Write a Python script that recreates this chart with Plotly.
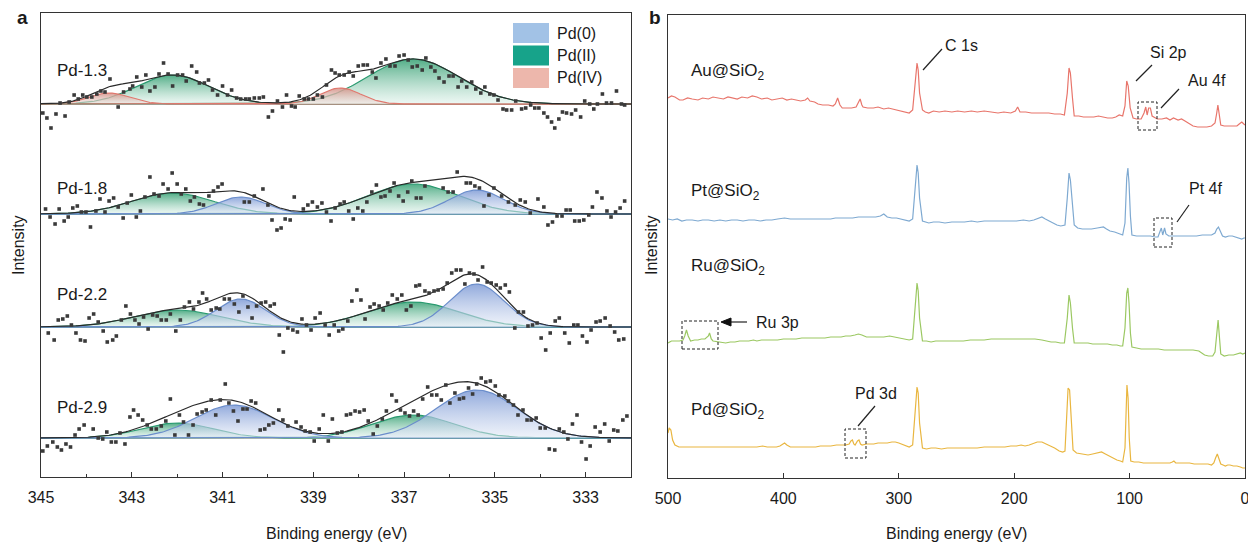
import numpy as np
import plotly.graph_objects as go

W, H = 1248, 544
def px(x): return x / W
def py(y): return 1 - y / H

FONT = "Liberation Sans, Arial, sans-serif"

# ---------------- Panel a : Pd 3d high-resolution spectra ----------------
samples = ["Pd-1.3", "Pd-1.8", "Pd-2.2", "Pd-2.9"]
offsets = [373, 263, 150, 39]          # vertical stacking offsets (a.u.)

# fitted components: (state, centre eV, height a.u., sigma eV)
comps_13 = [("Pd(II)", 342.1, 29, 0.8), ("Pd(IV)", 343.5, 11, 0.45),
            ("Pd(II)", 336.8, 45, 1.0), ("Pd(IV)", 338.4, 16, 0.45)]
comps_18 = [("Pd(II)", 342.1, 21, 0.9), ("Pd(0)", 340.6, 17, 0.55),
            ("Pd(II)", 336.8, 30, 1.0), ("Pd(0)", 335.4, 24, 0.6)]
comps_22 = [("Pd(II)", 342.0, 17, 0.95), ("Pd(0)", 340.6, 28, 0.55),
            ("Pd(II)", 336.8, 25, 1.0), ("Pd(0)", 335.4, 43, 0.6)]
comps_29 = [("Pd(II)", 342.0, 15, 0.8), ("Pd(0)", 340.75, 33, 0.85),
            ("Pd(II)", 336.8, 23, 0.9), ("Pd(0)", 335.4, 48, 0.9)]

# measured points (binding energy eV, intensity above baseline a.u.)
pts_13 = [(344.96,-9),(344.87,-14),(344.78,-24),(344.67,-10),(344.58,1),(344.47,-12),(344.38,2),(344.27,9),
 (344.18,5),(344.08,9),(343.99,7),(343.88,7),(343.77,10),(343.68,13),(343.59,12),(343.48,25),(343.30,-3),
 (343.18,12),(343.04,15),(342.98,18),(342.89,27),(342.78,17),(342.69,29),(342.60,13),(342.49,17),(342.40,30),
 (342.30,41),(342.20,30),(342.10,18),(341.99,29),(341.88,29),(341.80,23),(341.68,38),(341.57,32),(341.51,21),
 (341.40,21),(341.31,24),(341.22,14),(341.11,9),(341.00,18),(340.89,9),(340.80,14),(340.69,6),(340.60,5),
 (340.49,5),(340.41,5),(340.30,6),(340.19,6),(340.10,7),(339.99,-13),(339.90,-7),(339.79,3),(339.68,-3),
 (339.59,9),(339.48,-2),(339.40,-3),(339.31,8),(339.20,5),(339.11,5),(339.00,5),(338.91,9),(338.80,7),
 (338.71,19),(338.60,34),(338.52,31),(338.43,29),(338.32,29),(338.21,32),(338.12,28),(338.01,38),(337.90,39),
 (337.81,39),(337.70,32),(337.62,26),(337.51,41),(337.40,45),(337.31,38),(337.20,38),(337.11,48),(337.00,49),
 (336.91,44),(336.82,37),(336.71,38),(336.60,34),(336.52,46),(336.41,37),(336.32,33),(336.23,26),(336.12,22),
 (336.01,28),(335.92,28),(335.81,17),(335.73,23),(335.62,17),(335.51,22),(335.42,15),(335.31,11),(335.22,17),
 (335.11,10),(335.02,9),(334.93,4),(334.82,-5),(334.74,-6),(334.63,-6),(334.54,3),(334.41,-5),(334.32,-4),
 (334.21,-1),(334.12,-4),(334.03,-4),(333.92,-9),(333.84,-13),(333.75,-18),(333.68,-24),(333.59,-15),
 (333.51,-8),(333.42,-9),(333.31,-10),(333.22,-6),(333.11,-13),(333.02,3),(332.91,0),(332.82,-5),(332.74,0),
 (332.63,10),(332.54,1),(332.43,1),(332.32,13),(332.21,0),(332.14,-1)]
pts_18 = [(344.90,5),(344.80,-3),(344.69,-10),(344.60,5),(344.49,-7),(344.40,-3),(344.30,6),(344.20,8),
 (344.11,2),(344.01,2),(343.91,-13),(343.79,3),(343.70,15),(343.59,2),(343.50,13),(343.40,16),(343.30,7),
 (343.19,-4),(343.10,11),(343.01,19),(342.90,-3),(342.81,3),(342.71,17),(342.60,37),(342.51,20),(342.40,18),
 (342.31,30),(342.20,25),(342.11,41),(342.00,30),(341.91,20),(341.81,25),(341.71,13),(341.62,17),(341.51,10),
 (341.42,9),(341.30,18),(341.20,23),(341.10,27),(341.01,30),(340.52,12),(340.41,12),(340.30,18),(340.11,25),
 (340.00,9),(339.91,-6),(339.80,-16),(339.71,-14),(339.62,-5),(339.51,-6),(339.42,17),(339.22,5),(339.12,9),
 (339.02,12),(338.91,7),(338.81,11),(338.71,2),(338.61,-7),(338.52,6),(338.41,10),(338.32,12),(338.22,3),
 (338.12,-5),(338.02,6),(337.91,3),(337.82,12),(337.71,22),(337.61,29),(337.51,17),(337.42,18),(337.31,23),
 (337.22,31),(337.12,18),(337.02,13),(336.92,22),(336.83,33),(336.73,16),(336.63,16),(336.54,28),(336.14,26),
 (336.03,22),(335.92,22),(335.83,42),(335.63,31),(335.54,31),(335.44,28),(335.34,26),(335.24,8),(335.13,19),
 (335.02,26),(334.85,18),(334.70,12),(334.55,9),(334.44,14),(334.33,12),(334.22,1),(334.05,15),(333.92,7),
 (333.83,-11),(333.73,-8),(333.63,-2),(333.52,-2),(333.43,4),(333.34,4),(333.24,-7),(333.14,-7),(333.04,-6),
 (332.93,-1),(332.85,7),(332.75,22),(332.64,16),(332.53,3),(332.44,-3),(332.34,2),(332.24,6),(332.14,13)]
pts_22 = [(344.84,-6),(344.71,-13),(344.62,7),(344.52,8),(344.42,11),(344.33,2),(344.23,-6),(344.13,-13),
 (344.03,-14),(343.94,9),(343.84,13),(343.74,5),(343.63,-4),(343.54,-15),(343.42,-13),(343.34,-9),(343.23,7),
 (343.13,21),(343.03,13),(342.93,7),(342.84,3),(342.74,10),(342.64,-2),(342.54,12),(342.44,11),(342.35,7),
 (342.24,7),(342.15,13),(342.03,-4),(341.93,7),(341.84,20),(341.73,25),(341.64,18),(341.52,25),(341.44,34),
 (341.35,28),(341.25,17),(341.14,19),(341.06,18),(340.96,28),(340.85,28),(340.74,23),(340.64,15),(340.55,31),
 (340.44,20),(340.35,9),(340.25,21),(340.15,24),(340.05,25),(339.95,21),(339.86,23),(339.75,-8),(339.66,-25),
 (339.56,-1),(339.45,-3),(339.35,-5),(339.25,8),(339.15,2),(339.05,-3),(338.96,9),(338.85,14),(338.74,2),
 (338.65,-8),(338.54,2),(338.44,-4),(338.35,-2),(338.24,6),(338.15,26),(338.04,37),(337.95,27),(337.86,8),
 (337.75,20),(337.66,23),(337.55,21),(337.46,17),(337.36,24),(337.26,32),(337.15,28),(337.05,32),(336.95,17),
 (336.85,21),(336.74,41),(336.66,42),(336.54,36),(336.45,34),(336.34,36),(336.25,37),(336.14,38),(336.05,44),
 (335.95,54),(335.85,57),(335.75,57),(335.66,43),(335.56,54),(335.46,53),(335.37,47),(335.27,60),(335.17,45),
 (335.08,44),(334.97,42),(334.88,39),(334.77,42),(334.68,35),(334.56,-1),(334.48,15),(334.37,15),(334.27,1),
 (334.17,2),(334.07,4),(333.98,-11),(333.88,-23),(333.78,-6),(333.67,6),(333.58,9),(333.46,-6),(333.36,-16),
 (333.26,2),(333.17,2),(333.07,-9),(332.97,-15),(332.88,-3),(332.77,5),(332.68,6),(332.57,9),(332.46,1),
 (332.36,-5),(332.27,-13),(332.16,-12)]
pts_29 = [(344.96,-13),(344.86,-8),(344.74,-4),(344.64,-9),(344.55,-12),(344.45,-6),(344.35,-9),(344.25,3),
 (344.16,9),(344.05,13),(343.85,9),(343.74,0),(343.64,-1),(343.55,6),(343.45,-4),(343.35,-4),(343.26,5),
 (343.15,-6),(343.04,21),(342.96,28),(342.86,23),(342.76,18),(342.66,13),(342.57,9),(342.46,9),(342.35,12),
 (342.25,17),(342.15,39),(342.05,3),(341.95,23),(341.86,16),(341.75,3),(341.65,13),(341.56,24),(341.45,26),
 (341.36,28),(341.25,38),(341.15,23),(341.05,38),(340.94,54),(340.86,35),(340.76,27),(340.66,17),(340.55,29),
 (340.46,29),(340.37,37),(340.27,35),(340.17,8),(340.07,9),(339.98,13),(339.88,15),(339.76,28),(339.67,18),
 (339.56,12),(339.38,16),(339.27,11),(339.18,7),(339.07,6),(338.98,-3),(338.87,9),(338.78,23),(338.67,-3),
 (338.58,19),(338.47,5),(338.37,6),(338.27,23),(338.18,24),(338.08,27),(337.98,26),(337.88,28),(337.79,17),
 (337.68,4),(337.59,12),(337.48,19),(337.39,27),(337.27,43),(337.17,37),(337.08,28),(336.98,25),(336.88,22),
 (336.79,27),(336.69,23),(336.59,39),(336.48,51),(336.39,43),(336.28,43),(336.18,38),(336.08,53),(335.99,35),
 (335.88,45),(335.78,39),(335.69,40),(335.58,50),(335.49,44),(335.40,54),(335.30,60),(335.20,56),(335.10,57),
 (334.99,52),(334.91,43),(334.78,42),(334.70,37),(334.59,33),(334.49,23),(334.38,28),(334.29,18),(334.20,18),
 (334.09,20),(334.00,10),(333.89,10),(333.80,-11),(333.68,-12),(333.58,9),(333.48,6),(333.39,-1),(333.29,14),
 (333.19,23),(333.09,-4),(332.99,-21),(332.90,-8),(332.79,11),(332.68,6),(332.58,14),(332.48,-3),(332.38,8),
 (332.29,7),(332.18,18),(332.09,22)]

comps_all = [comps_13, comps_18, comps_22, comps_29]
pts_all = [pts_13, pts_18, pts_22, pts_29]
label_y = [70, 188, 294, 407]

styles = {
    "Pd(0)":  dict(line="#6A8DCB", top="rgba(120,150,212,0.82)", bot="rgba(226,233,246,0.55)"),
    "Pd(II)": dict(line="#2A9A70", top="rgba(58,162,118,0.88)", bot="rgba(224,242,235,0.55)"),
    "Pd(IV)": dict(line="#E0786E", top="rgba(212,146,136,0.88)", bot="rgba(240,226,222,0.55)"),
}
legend_swatch = {"Pd(0)": "#A2C2E6", "Pd(II)": "#17A38A", "Pd(IV)": "#EDB7AC"}

grid = np.linspace(345.2, 331.9, 400)

fig = go.Figure()

for comps, pts, base in zip(comps_all, pts_all, offsets):
    total = np.zeros_like(grid)
    fig.add_trace(go.Scatter(x=[345.2, 331.9], y=[base, base], mode="lines",
                             line=dict(color="#8E9C97", width=1.3), xaxis="x", yaxis="y",
                             showlegend=False, hoverinfo="skip"))
    order = sorted(comps, key=lambda c: 1 if c[0] == "Pd(0)" else 0)
    for state, c, h, s in order:
        g = h * np.exp(-(grid - c) ** 2 / (2 * s * s))
        st = styles[state]
        fig.add_trace(go.Scatter(
            x=grid, y=base + g, mode="lines", fill="toself",
            fillgradient=dict(type="vertical", start=base, stop=base + h,
                              colorscale=[[0, st["bot"]], [1, st["top"]]]),
            line=dict(color=st["line"], width=1.2), xaxis="x", yaxis="y",
            showlegend=False, hoverinfo="skip"))
    for state, c, h, s in comps:
        total += h * np.exp(-(grid - c) ** 2 / (2 * s * s))
    fig.add_trace(go.Scatter(x=grid, y=base + total, mode="lines",
                             line=dict(color="#2A2A2A", width=1.2), xaxis="x", yaxis="y",
                             showlegend=False, hoverinfo="skip"))
    fig.add_trace(go.Scatter(x=[p[0] for p in pts], y=[base + p[1] for p in pts], mode="markers",
                             marker=dict(symbol="square", size=3.6, color="#3A3A3A"),
                             xaxis="x", yaxis="y", showlegend=False))

# ---------------- Panel b : survey spectra ----------------
survey_names = ["Au@SiO<sub>2</sub>", "Pt@SiO<sub>2</sub>", "Ru@SiO<sub>2</sub>", "Pd@SiO<sub>2</sub>"]
survey_colors = ["#E8756B", "#7EA9D1", "#9BC862", "#E9B640"]
survey_label_y = [72, 192, 267, 411]

au = [(500,380),(497,382),(494,381),(490,378),(487,378),(483,380),(479,379),(474,378),(470,380),(465,379),
 (461,381),(457,380),(452,379),(448,381),(444,380),(440,379),(436,381),(431,380),(427,382),(423,381),(419,379),
 (414,380),(410,378),(406,379),(401,380),(397,378),(393,379),(389,378),(385,377),(381,378),(379,380),(377,377),
 (373,376),(370,374),(366,373),(361,373),(357,372),(355,374),(353,380),(351,373),(349,370),(345,370),(341,370),
 (337,371),(335,375),(333.5,379),(332,373),(331,371),(327,370),(322,370),(318,371),(313,369),(309,370),
 (305,369),(300,368),(296,367),(291,365),(288,368),(285.8,392),(284.2,415),(283.2,408),(282,385),(279.5,368),
 (277,366),(274,365),(270,367),(265,366),(260,367),(254,366),(249,367),(243,366),(237,367),(232,366),(226,367),
 (220,366),(214,365),(209,366),(203,365),(199,367),(197,371),(195,366),(190,366),(185,365),(180,365),(175,365),
 (170,365),(165,364),(160,364),(156.5,363),(154,385),(152.5,410),(151.3,405),(149.5,380),(148,362),(144,362),
 (140,361),(136,361),(131,361),(127,362),(123,361),(119,360),(115,360),(112,361),(109,363),(106,362),(104,372),
 (102.5,397),(101.2,392),(99.5,370),(97,360),(94,359),(90,359),(87.5,365),(86,371),(84.8,363),(83.5,370),
 (82,370),(80.5,362),(79,361),(76,359),(72,359),(68,360),(65,358),(62,360),(58,358),(55,359),(52,357),(49,355),
 (45,352),(41,351),(37,351),(33,351),(29,352),(26,355),(24.5,365),(23.5,373),(22.5,365),(21,353),(18,352),
 (14,352),(10,352),(7,352),(5,354),(2.8,356),(1,354),(0,353)]
pt = [(500,259),(496,258),(492,259),(488,257),(484,258),(479,258),(474,257),(470,258),(465,258),(460,257),
 (455,258),(450,257),(445,258),(440,258),(435,257),(430,258),(425,258),(420,257),(415,258),(410,258),(405,259),
 (399,260),(394,259),(389,259),(384,259),(379,259),(374,259),(369,259),(364,259),(359,259),(355,260),(350,260),
 (345,260),(340,260),(335,261),(330,261),(325,261),(320,261),(316,262),(313,264),(310,261),(306,260),(302,260),
 (298,259),(294,258),(291,257),(288,259),(285.8,290),(284.2,313),(283.2,305),(282,280),(279.5,257),(276,256),
 (274,255),(270,256),(265,256),(260,255),(254,256),(249,256),(243,256),(237,257),(232,256),(226,257),(220,257),
 (214,257),(209,257),(203,257),(198,257),(192,258),(187,257),(183,258),(179,260),(176,261),(173,259),(170,257),
 (166,255),(163,253),(159.6,252),(156,253),(154,280),(152.5,305),(151.3,298),(149.5,272),(148,253),(145,250),
 (141,249),(137,249),(133,249),(128,250),(124,251),(122.7,251),(120,249),(117,247),(113,246),(109,244),(106,243),
 (104,255),(102.5,300),(101.5,310),(100.5,295),(99.3,262),(98,243),(94,242),(90,242),(86,242),(82,242),(78,241),
 (75.4,241),(73.5,247),(72.5,250),(71.3,243),(69.7,250),(68.5,244),(66,242),(61,242),(56,242),(52,242),(47,242),
 (42,242),(37,243),(33,243),(29,243),(26,245),(24.5,249),(23,251),(21.5,247),(19.5,242),(17,241),(14,242),
 (11,242),(8,241),(5,240),(2.8,239),(1,240),(0,240)]
ru = [(500,135),(497,137),(493,137),(490,137),(487,138),(485.5,142),(484,148),(482.5,142),(480.4,137),(477,138),
 (474,138),(471,139),(468,139),(465,142),(464,145),(462.5,139),(461,137),(457,136),(453,135),(450,135),(446,136),
 (442,136),(438,137),(434,137),(430,137),(426,138),(423,137),(419,138),(414,138),(410,138),(405,138),(400,139),
 (395,139),(389,139),(384,140),(379,140),(374,140),(369,140),(364,140),(359,141),(355,141),(350,141),(346,142),
 (342,142),(338,143),(335,144),(332,143),(328,141),(325,141),(322,141),(318,141),(313,141),(308,142),(303,141),
 (299,140),(295,139),(291,138),(288,139),(285.8,170),(284.2,195),(283.2,187),(282,160),(279.5,137),(276,137),
 (272,136),(268,137),(263,137),(258,137),(254,137),(249,137),(244,137),(238,138),(232,138),(226,138),(220,139),
 (214,139),(208,139),(203,139),(197,139),(191,139),(187,139),(182,139),(176,138),(172,137),(168,136),(164,136),
 (160,135),(156.5,135),(154,160),(152.5,183),(151.3,175),(149.5,150),(148,135),(144,135),(140,135),(136,135),
 (132,134),(128,134),(124,134),(119,134),(115,133),(111,133),(108,132),(106,132),(104,150),(102.5,185),
 (101.5,190),(100.5,175),(99.3,145),(98,131),(94,130),(90,129),(86,129),(80,129),(75,129),(70,128),(65,128),
 (60,128),(55,128),(50,128),(45,128),(40,127),(37,125),(35,123),(31.6,122),(28,122),(26,126),(24.5,145),
 (23.3,158),(22.3,143),(21,124),(18,122),(14,123),(10,123),(7,124),(4,125),(2,124),(0,125)]
pd = [(500,45),(499,50),(497.5,48),(496,38),(494,33),(490.5,31),(486,31),(482,31),(478,31),(474,31),(470,31),
 (466,31),(461,31),(457,31),(452,31),(448,31),(444,31),(440,31),(435,31),(431,31),(427,31),(423,31),(418,32),
 (414,31),(410,31),(406,31),(403,32),(401,34),(399,35),(397,33),(394,31),(390,31),(386,31),(382,31),(377,31),
 (372,31),(368,32),(363,32),(359,32),(354,33),(350,33),(346,33),(343,34),(341.5,37),(340.2,38),(339,34),
 (337.9,33),(335.8,37),(334.5,38),(333.2,34),(331.8,33),(328,34),(325,34),(321.7,34),(318,35),(314,35),(310,35),
 (306,36),(303,36),(300,35),(296,33),(293,32),(291,31),(288,33),(285.8,70),(284.2,91),(283.2,85),(282,55),
 (279.5,30),(276,29),(272,30),(268,30),(263,29),(258,30),(254,30),(249,30),(244,30),(238,30),(232,30),(226,31),
 (220,31),(214,31),(208,31),(203,32),(198,32),(194,33),(190.6,32),(187,33),(184,34),(180,36),(176,36),(172,34),
 (168,32),(165,30),(161,27),(158,26),(156,27),(154.5,60),(153.3,90),(152,88),(150.5,55),(149,28),(146,25),
 (142,24),(139,23),(136,23),(132,24),(128,25),(124.3,26),(121,24),(118,22),(114,20),(111,18),(108,17),(106,16),
 (104,30),(103.2,75),(102.3,93),(101.3,80),(100.3,40),(99,17),(96,16),(92,16),(88,15),(84,15),(80,15),(75,15),
 (70,15),(65,15),(63,16),(61.6,17),(60,15),(56,15),(52,15),(48,15),(44,14),(40,14),(36,14),(32,14),(29,13),
 (27,15),(25.5,20),(24,24),(22.5,19),(21,14),(19,13),(17,12),(15,13),(13,13),(10,12),(7,12),(4,11),(2,10),(0,10)]
surveys = [au, pt, ru, pd]

for spec, col in zip(surveys, survey_colors):
    fig.add_trace(go.Scatter(x=[p[0] for p in spec], y=[p[1] for p in spec], mode="lines",
                             line=dict(color=col, width=1.2), xaxis="x2", yaxis="y2",
                             showlegend=False))

# ---------------- axes ----------------
axis_common = dict(showline=True, mirror=True, linecolor="#333333", linewidth=1.3,
                   showgrid=False, zeroline=False)
fig.update_layout(
    width=W, height=H, margin=dict(l=0, r=0, t=0, b=0, autoexpand=False),
    paper_bgcolor="white", plot_bgcolor="white", showlegend=False,
    font=dict(family=FONT, size=16, color="#1A1A1A"),
    xaxis=dict(domain=[px(41), px(631)], range=[345, 332], anchor="y",
               tickvals=[345, 343, 341, 339, 337, 335, 333], ticks="inside", ticklen=5,
               tickcolor="#333333", tickfont=dict(size=16), ticklabelstandoff=6,
               ticklabeloverflow="allow",
               minor=dict(tickvals=[344, 342, 340, 338, 336, 334], ticks="inside", ticklen=3,
                          tickcolor="#333333"),
               **axis_common),
    yaxis=dict(domain=[py(477), py(13)], range=[0, 464], anchor="x",
               showticklabels=False, ticks="", **axis_common),
    xaxis2=dict(domain=[px(668), px(1245)], range=[500, 0], anchor="y2",
                tickvals=[500, 400, 300, 200, 100, 0], ticks="inside", ticklen=5,
                tickcolor="#333333", tickfont=dict(size=16), ticklabelstandoff=6,
                ticklabeloverflow="allow",
                **axis_common),
    yaxis2=dict(domain=[py(478), py(15)], range=[0, 463], anchor="x2",
                showticklabels=False, ticks="", **axis_common),
)

ann = []
shapes = []
def A(x, y, text, size=16, xa="center", ya="middle", **kw):
    d = dict(x=px(x), y=py(y), text=text, xref="paper", yref="paper", showarrow=False,
             xanchor=xa, yanchor=ya, font=dict(size=size))
    d.update(kw)
    ann.append(d)

A(22, 18, "<b>a</b>", size=19)
A(655, 18, "<b>b</b>", size=19)
A(336, 533, "Binding energy (eV)")
A(956, 533, "Binding energy (eV)")
A(18, 245, "Intensity", textangle=-90)
A(651, 245, "Intensity", textangle=-90)
for name, yy in zip(samples, label_y):
    A(55, yy, name, size=17, xa="left")
for i, st in enumerate(["Pd(0)", "Pd(II)", "Pd(IV)"]):
    y0 = 23 + i * 22.5
    shapes.append(dict(type="rect", xref="paper", yref="paper", x0=px(513), x1=px(549),
                       y0=py(y0 + 20), y1=py(y0), fillcolor=legend_swatch[st], line=dict(width=0)))
    A(555, y0 + 10, st, xa="left")
for name, yy in zip(survey_names, survey_label_y):
    A(689, yy, name, size=17, xa="left")
A(961, 45, "C 1s")
A(1168, 52, "Si 2p")
A(1207, 80, "Au 4f")
A(1205, 188, "Pt 4f")
A(777, 322, "Ru 3p")
A(876, 393, "Pd 3d")

leaders = [(942, 49, 923, 70), (1152, 65, 1136, 81), (1179, 89, 1161, 108),
           (1189, 205, 1177, 222), (875, 406, 858, 426), (747, 322, 728, 322)]
for x0, y0, x1, y1 in leaders:
    shapes.append(dict(type="line", xref="paper", yref="paper", x0=px(x0), y0=py(y0),
                       x1=px(x1), y1=py(y1), line=dict(color="#222222", width=1.2)))
shapes.append(dict(type="path", xref="paper", yref="paper",
                   path=f"M {px(721)},{py(322)} L {px(731)},{py(318)} L {px(731)},{py(326)} Z",
                   fillcolor="#111111", line=dict(color="#111111", width=1)))
boxes = [(1138, 102, 1157, 130), (1154, 218, 1172, 247), (682, 321, 718, 349), (845, 429, 866, 458)]
for x0, y0, x1, y1 in boxes:
    shapes.append(dict(type="rect", xref="paper", yref="paper", x0=px(x0), y0=py(y1),
                       x1=px(x1), y1=py(y0), line=dict(color="#222222", width=1, dash="3px,2px")))

fig.update_layout(annotations=ann, shapes=shapes)

fig.write_html("out.html", config={"displayModeBar": False},
               post_script="document.body.style.margin='0';document.body.style.overflow='hidden';")
